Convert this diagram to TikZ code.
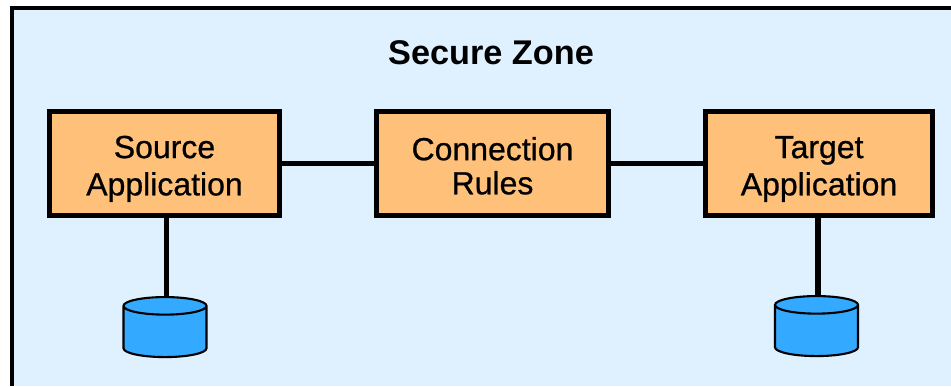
\documentclass[tikz,border=0pt]{standalone}
\usepackage{fontspec}
\setmainfont{Liberation Sans}
\newfontfamily\appfont{Liberation Sans}[FakeBold=0.7]
\usepackage{xcolor}
\usetikzlibrary{shapes.geometric, positioning, calc}
\definecolor{zoneblue}{HTML}{DFF0FF}
\definecolor{apporange}{HTML}{FFC07A}
\definecolor{dbblue}{HTML}{33AAFF}
\tikzset{
    appbox/.style={draw=black, line width=1.6pt, fill=apporange, align=center, minimum height=1.04cm, inner sep=0pt, font=\appfont\fontsize{9.1}{9.7}\selectfont},
    dbcyl/.style={draw=black, line width=0.6pt, fill=dbblue, cylinder, shape border rotate=90, shape aspect=2.5, minimum width=0.83cm, minimum height=0.6cm, inner sep=1pt},
    wire/.style={line width=1.6pt}
}

\begin{document}
\begin{tikzpicture}
\useasboundingbox (0,0) rectangle (9.51,3.86);
% Secure zone
\fill[white] (0,0) rectangle (9.51,3.86);
\fill[zoneblue] (0.12,0) rectangle (9.51,3.78);
\draw[line width=1.2pt] (0.12,0) -- (0.12,3.78) -- (9.51,3.78);
\node[font=\fontsize{9.75}{11}\selectfont\bfseries] (zone) at (4.91,3.33) {Secure Zone};

% Applications and rules
\node[appbox, minimum width=2.30cm] (source) at (1.645,2.225) {\rule{0pt}{9.4pt}Source\\[0.9pt]Application};
\node[appbox, minimum width=2.32cm] (rules) at (4.925,2.225) {\rule{0pt}{7.9pt}Connection\\Rules};
\node[appbox, minimum width=2.27cm] (target) at (8.19,2.225) {\rule{0pt}{9.4pt}Target\\[0.9pt]Application};

% Data stores
\node[dbcyl] (sourcedb) at (1.65,0.5225) {};
\node[dbcyl] (targetdb) at (8.165,0.5325) {};

% Links
\draw[wire] (source) -- (rules);
\draw[wire] (rules) -- (target);
\draw[wire] ([xshift=0.015cm]source.south -| sourcedb.top) -- ([xshift=0.015cm]sourcedb.top);
\draw[wire] ([xshift=0.015cm]target.south -| targetdb.top) -- ([xshift=0.015cm]targetdb.top);
\end{tikzpicture}
\end{document}
